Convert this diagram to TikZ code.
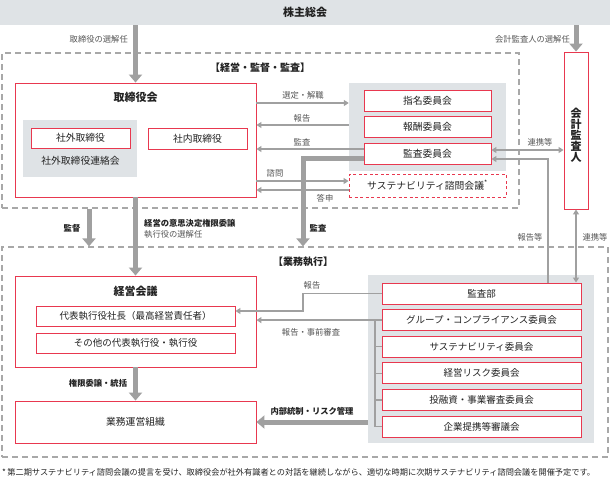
\documentclass[tikz,border=0pt]{standalone}
\usepackage{fontspec}
\setmainfont{Noto Sans CJK JP}
\usetikzlibrary{arrows.meta,calc}
\definecolor{redc}{HTML}{E8384F}
\definecolor{bgg}{HTML}{DFE3E6}
\definecolor{arrg}{HTML}{A0A0A0}
\definecolor{dashg}{HTML}{A8A8A8}
\definecolor{txt}{HTML}{222222}
\definecolor{lab}{HTML}{555555}
\newcommand\fsz[1]{\fontsize{#1pt}{#1pt}\selectfont}
\begin{document}
\begin{tikzpicture}[x=1pt,y=-1pt,
  redbox/.style={draw=redc, fill=white, line width=0.9pt, inner sep=0pt, text=txt, font=\fsz{9.8}},
  bgbox/.style={fill=bgg, inner sep=0pt},
  dashreg/.style={draw=dashg, line width=1.2pt, dash pattern=on 6pt off 4pt, inner sep=0pt},
  lbl/.style={text=lab, font=\fsz{8.3}, inner sep=0pt},
  blbl/.style={text=txt, font=\bfseries\fsz{8.3}, inner sep=0pt},
  ttl/.style={text=txt, font=\bfseries\fsz{11}, inner sep=0pt},
  tarrow/.style={draw=arrg, line width=1.3pt, -{Triangle[length=5pt,width=6pt]}},
  darrow/.style={draw=arrg, line width=1.3pt, {Triangle[length=5pt,width=6pt]}-{Triangle[length=5pt,width=6pt]}},
  tline/.style={draw=arrg, line width=1.3pt},
  karrow/.style={draw=arrg, line width=5pt, -{Triangle[length=8pt,width=13pt]}},
]
\useasboundingbox (0,0) rectangle (610,480);

% top bar
\node[bgbox, minimum width=610pt, minimum height=25pt, font=\bfseries\fsz{11}, text=txt] (soukai) at (305,12.5) {株主総会};

% regions
\node[dashreg, minimum width=517pt, minimum height=155pt] (upper) at (260.5,130.5) {};
\node[dashreg, minimum width=606pt, minimum height=210pt] (lower) at (305,352) {};
\node[text=txt, font=\bfseries\fsz{10}, inner sep=0pt] (upttl) at (260,68) {【経営・監督・監査】};
\node[text=txt, font=\bfseries\fsz{10}, inner sep=0pt] (lowttl) at (303,262) {【業務執行】};

% board
\node[redbox, minimum width=241pt, minimum height=114pt] (toriB) at (135.5,140) {};
\node[ttl] (toriT) at (135.5,97) {取締役会};
\node[bgbox, minimum width=114pt, minimum height=57pt] (shagaiBg) at (80,148.5) {};
\node[redbox, minimum width=99pt, minimum height=20pt] (shagai) at (80.5,138) {社外取締役};
\node[text=txt, font=\fsz{9.8}, inner sep=0pt] (renraku) at (80.5,161) {社外取締役連絡会};
\node[redbox, minimum width=99pt, minimum height=21pt] (shanai) at (197.5,138.5) {社内取締役};

% committees
\node[bgbox, minimum width=157pt, minimum height=88pt] (comm) at (427.5,127) {};
\node[redbox, minimum width=127pt, minimum height=21pt] (shimei) at (427.5,100.5) {指名委員会};
\node[redbox, minimum width=127pt, minimum height=21pt] (houshu) at (427.5,127) {報酬委員会};
\node[redbox, minimum width=127pt, minimum height=21pt] (kansa) at (427.5,153.5) {監査委員会};
\node[draw=redc, fill=white, line width=0.9pt, dash pattern=on 3pt off 2.5pt, inner sep=0pt, text=txt, font=\fsz{9.8}, minimum width=157pt, minimum height=23pt] (sus) at (427.5,185.5) {サステナビリティ諮問会議\textsuperscript{*}};

% accounting auditor
\node[redbox, minimum width=24pt, minimum height=157pt] (kaikei) at (576,130.5) {};
\node[text=txt, font=\bfseries\fsz{11}, align=center, inner sep=0pt] (kaikeiT) at (576,135) {会\\計\\監\\査\\人};

% top arrows
\draw[karrow] (soukai.south -| toriB.north) -- (toriB.north);
\draw[karrow] (soukai.south -| kaikei.north) -- (kaikei.north);
\node[lbl, anchor=east] (l1) at (128,39) {取締役の選解任};
\node[lbl, anchor=east] (l2) at (570,39) {会計監査人の選解任};

% board <-> committees
\draw[tarrow] (toriB.east |- 0,103) -- (comm.west |- 0,103);
\draw[tarrow] (comm.west |- 0,125) -- (toriB.east |- 0,125);
\draw[tarrow] (kansa.west |- 0,149) -- (toriB.east |- 0,149);
\draw[tarrow] (toriB.east |- 0,181) -- (sus.west |- 0,181);
\draw[tarrow] (sus.west |- 0,190) -- (toriB.east |- 0,190);
\node[lbl] (l3) at (303,95) {選定・解職};
\node[lbl] (l4) at (302,118) {報告};
\node[lbl] (l5) at (302,142) {監査};
\node[lbl] (l6) at (275,173) {諮問};
\node[lbl] (l7) at (325,198) {答申};

% auditing committee <-> auditor
\draw[darrow] (kansa.east |- 0,150) -- (kaikei.west |- 0,150);
\node[lbl] (l8) at (540,142) {連携等};

% executive side
\node[redbox, minimum width=241pt, minimum height=91pt] (keiei) at (135.5,321.5) {};
\node[ttl] (keieiT) at (135.5,291) {経営会議};
\node[redbox, minimum width=199pt, minimum height=20pt, font=\fsz{9.5}] (daihyo) at (135.5,316) {代表執行役社長（最高経営責任者）};
\node[redbox, minimum width=199pt, minimum height=20pt, font=\fsz{9.5}] (sonota) at (135.5,343) {その他の代表執行役・執行役};
\node[redbox, minimum width=241pt, minimum height=42pt] (gyomu) at (135.5,422) {業務運営組織};

\node[bgbox, minimum width=226pt, minimum height=168pt] (exec) at (481,359) {};
\node[redbox, minimum width=199pt, minimum height=21pt, font=\fsz{9.5}] (kansabu) at (481.5,293.5) {監査部};
\node[redbox, minimum width=199pt, minimum height=21pt, font=\fsz{9.5}] (comp) at (481.5,320.1) {グループ・コンプライアンス委員会};
\node[redbox, minimum width=199pt, minimum height=21pt, font=\fsz{9.5}] (susc) at (481.5,346.7) {サステナビリティ委員会};
\node[redbox, minimum width=199pt, minimum height=21pt, font=\fsz{9.5}] (risk) at (481.5,373.3) {経営リスク委員会};
\node[redbox, minimum width=199pt, minimum height=21pt, font=\fsz{9.5}] (toyu) at (481.5,399.9) {投融資・事業審査委員会};
\node[redbox, minimum width=199pt, minimum height=21pt, font=\fsz{9.5}] (teikei) at (481.5,426.5) {企業提携等審議会};

% bracket
\coordinate (brT) at (375,320.1);
\draw[tline] (brT) -- (brT |- teikei.west);
\foreach \n in {comp,susc,risk,toyu,teikei} \draw[tline] (brT |- \n.west) -- (\n.west);
\draw[tarrow] (brT) -- (keiei.east |- brT);
\node[lbl] (l9) at (311,332) {報告・事前審査};

% report from audit dept
\draw[tarrow] (kansabu.west) -- (303,293.5) -- (303,311) -- (daihyo.east |- 0,311);
\node[lbl] (l10) at (312,285) {報告};

% audit dept -> audit committee, auditor
\draw[tarrow] (kansabu.north -| 548,0) -- (548,159) -- (kansa.east |- 0,159);
\node[lbl] (l11) at (530,237) {報告等};
\draw[darrow] (kaikei.south) -- (kansabu.north -| kaikei.south);
\node[lbl] (l12) at (595,237) {連携等};

% thick arrows between regions
\draw[karrow] (toriB.south) -- (keiei.north);
\node[blbl, anchor=west] (l13) at (144,223) {経営の意思決定権限委譲};
\node[lbl, anchor=west] (l14) at (144,234.5) {執行役の選解任};
\draw[karrow] (upper.south -| 89,0) -- (lower.north -| 89,0);
\node[blbl] (l15) at (72,228) {監督};
\draw[karrow] (kansa.west |- 0,158) -- (303,158) -- (lower.north -| 303,0);
\node[blbl] (l16) at (318,228) {監査};

\draw[karrow] (keiei.south) -- (gyomu.north);
\node[blbl] (l17) at (98,383) {権限委譲・統括};
\draw[karrow] (exec.west |- gyomu.east) -- (gyomu.east);
\node[blbl] (l18) at (312,411) {内部統制・リスク管理};

% footnote
\node[text=txt, font=\fsz{8.2}, anchor=west, inner sep=0pt] (foot) at (2,472.5) {*\,第二期サステナビリティ諮問会議の提言を受け、取締役会が社外有識者との対話を継続しながら、適切な時期に次期サステナビリティ諮問会議を開催予定です。};
\end{tikzpicture}
\end{document}
